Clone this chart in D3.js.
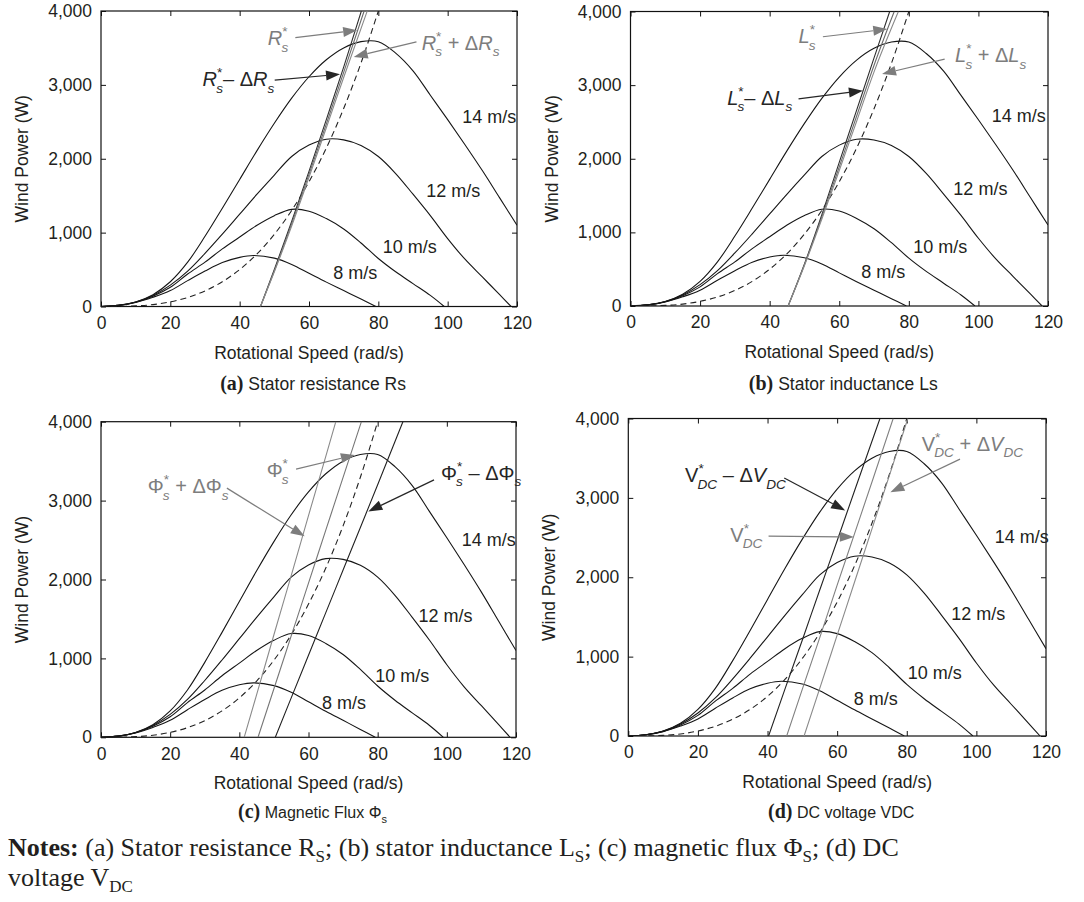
<!DOCTYPE html>
<html><head><meta charset="utf-8">
<script src="https://cdn.jsdelivr.net/npm/d3@7"></script>
<style>
body{margin:0;background:#fff;}
svg{display:block;}
text{font-family:"Liberation Sans",Arial,sans-serif;}
</style></head><body>
<svg id="chart" width="1084" height="902"></svg>
<script>
// ---------------- data ----------------
const xTicks = [0, 20, 40, 60, 80, 100, 120];
const yTicks = [0, 1000, 2000, 3000, 4000];
const speedLabels = ["8 m/s", "10 m/s", "12 m/s", "14 m/s"];

const omega8  = [0,5,10,15,20,25,30,35,40,44,50,55,60,65,70,75,79.3];
const power8  = [0,15,55,125,215,350,480,595,665,690,655,570,450,330,215,100,0];
const omega10 = [0,5,10,15,20,25,30,35,40,45,50,55,60,65,70,75,80,85,90,95,99];
const power10 = [0,15,58,140,260,440,600,780,940,1100,1230,1315,1290,1190,1050,860,650,470,310,150,0];
const omega12 = [0,5,10,15,20,25,30,35,40,45,50,55,60,65,70,75,80,85,90,95,100,105,110,115,118.3];
const power12 = [0,15,60,150,290,480,720,980,1250,1520,1780,2030,2185,2265,2255,2180,2030,1800,1520,1230,920,640,400,160,0];
const omega14 = [0,5,10,15,20,25,30,35,40,45,50,55,60,65,70,75,80,85,90,95,100,105,110,115,120];
const power14 = [0,15,62,160,335,600,950,1330,1720,2110,2480,2820,3110,3340,3500,3585,3585,3430,3190,2860,2530,2190,1840,1470,1100];

// optimal (dashed) curve
const optOmega = [0,5,10,15,20,25,30,35,40,45,50,55,60,65,70,75,80];
const optPower = [0,1,8,26,63,122,211,335,500,712,977,1300,1688,2145,2680,3296,4000];

// operating lines for parameter variations [omega, power]
const rsMinus = [[46,0],[50,500],[55,1150],[60,1830],[65,2530],[70,3240],[75.1,4000]];
const rsStar  = [[46,0],[50,480],[55,1120],[60,1790],[65,2470],[70,3170],[75.9,4000]];
const rsPlus  = [[46,0],[50,470],[55,1090],[60,1750],[65,2420],[70,3100],[76.8,4000]];
const lsMinus = [[45.3,0],[50,570],[55,1240],[60,1950],[65,2660],[70,3370],[74.5,4000]];
const lsStar  = [[45.3,0],[50,560],[55,1210],[60,1890],[65,2580],[70,3270],[75.8,4000]];
const lsPlus  = [[45.3,0],[50,550],[55,1180],[60,1840],[65,2510],[70,3180],[77.0,4000]];
const phiPlus  = [[41.4,0],[45,540],[50,1300],[55,2050],[60,2810],[65,3560],[67.9,4000]];
const phiStar  = [[45.4,0],[50,615],[55,1285],[60,1955],[65,2625],[70,3295],[75.3,4000]];
const phiMinus = [[50.4,0],[55,500],[60,1040],[65,1580],[70,2120],[75,2660],[80,3200],[87.3,4000]];
const vdcMinus = [[40.3,0],[45,590],[50,1210],[55,1840],[60,2460],[65,3090],[72.3,4000]];
const vdcStar  = [[45.5,0],[50,590],[55,1240],[60,1900],[65,2550],[70,3200],[76.1,4000]];
const vdcPlus  = [[50.5,0],[55,600],[60,1270],[65,1940],[70,2610],[75,3280],[80.3,4000]];

// ---------------- layout ----------------
const GRAY = "#7d7d7d", DARK = "#262626";
const windSeries = [[omega8,power8],[omega10,power10],[omega12,power12],[omega14,power14]];

const panels = [
  { box:{l:101,t:11,r:517,b:306.5},
    lines:[{d:rsMinus,c:"#2e2e2e"},{d:rsStar,c:"#6a6a6a"},{d:rsPlus,c:"#8a8a8a"}],
    speedPos:[[67,459],[81.3,802],[93.8,1568],[104.2,2568]],
    notes:[
      {tok:[["R","i"],["*","sup"],["s","sub"]], c:GRAY, at:[48.1,3536], from:[56.05,3640], to:[73.9,3739]},
      {tok:[["R","i"],["*","sup"],["s","sub"],[" + Δ","n"],["R","i"],["s","sub"]], c:GRAY, at:[92.5,3477], from:[91.0,3581], to:[72.9,3378]},
      {tok:[["R","i"],["*","sup"],["s","sub"],["– Δ","n"],["R","i"],["s","sub"]], c:DARK, at:[29.3,2982], from:[50.1,3063], to:[68.95,3144]}
    ],
    cap:[["(a)","b"],[" Stator resistance Rs","s"]]
  },
  { box:{l:630.5,t:11.5,r:1048,b:306},
    lines:[{d:lsMinus,c:"#2e2e2e"},{d:lsStar,c:"#6a6a6a"},{d:lsPlus,c:"#8a8a8a"}],
    speedPos:[[66.3,465],[81.3,804],[92.8,1585],[103.8,2587]],
    notes:[
      {tok:[["L","i"],["*","sup"],["s","sub"]], c:GRAY, at:[48.3,3567], from:[55.3,3657], to:[73.8,3761]},
      {tok:[["L","i"],["*","sup"],["s","sub"],[" + Δ","n"],["L","i"],["s","sub"]], c:GRAY, at:[93.3,3309], from:[90.3,3354], to:[72.3,3151]},
      {tok:[["L","i"],["*","sup"],["s","sub"],["– Δ","n"],["L","i"],["s","sub"]], c:DARK, at:[27.8,2736], from:[48.3,2813], to:[66.8,2925]}
    ],
    cap:[["(b)","b"],[" Stator inductance Ls","s"]]
  },
  { box:{l:101,t:421.7,r:516,b:737.3},
    lines:[{d:phiPlus,c:"#8a8a8a"},{d:phiStar,c:"#777777"},{d:phiMinus,c:"#222222"}],
    speedPos:[[63.9,434],[79.3,771],[91.8,1537],[104.3,2505]],
    notes:[
      {tok:[["Φ","n"],["*","sup"],["s","sub"]], c:GRAY, at:[47.9,3297], from:[56.4,3398], to:[73.4,3579]},
      {tok:[["Φ","n"],["*","sup"],["s","sub"],[" + ΔΦ","n"],["s","sub"]], c:GRAY, at:[13.5,3095], from:[36.4,3158], to:[58.9,2547]},
      {tok:[["Φ","n"],["*","sup"],["s","sub"],[" – ΔΦ","n"],["s","sub"]], c:DARK, at:[98.3,3263], from:[96.3,3263], to:[77.3,2863]}
    ],
    cap:[["(c)","b"],[" Magnetic Flux Φ","s"],["s","ssub"]]
  },
  { box:{l:628.3,t:418.5,r:1046,b:736},
    lines:[{d:vdcMinus,c:"#222222"},{d:vdcStar,c:"#808080"},{d:vdcPlus,c:"#8a8a8a"}],
    speedPos:[[64.8,467],[80.3,792],[92.8,1542],[105.3,2508]],
    notes:[
      {tok:[["V","n"],["*","sup"],["DC","sub"],[" – Δ","n"],["V","i"],["DC","sub"]], c:DARK, at:[16.3,3196], from:[44.8,3250], to:[62.3,2842]},
      {tok:[["V","n"],["*","sup"],["DC","sub"]], c:GRAY, at:[29.3,2446], from:[40.3,2517], to:[64.8,2508]},
      {tok:[["V","n"],["*","sup"],["DC","sub"],[" + Δ","n"],["V","i"],["DC","sub"]], c:GRAY, at:[84.3,3592], from:[95.3,3488], to:[75.3,3071]}
    ],
    cap:[["(d)","b"],[" DC voltage VDC","s"]]
  }
];

const svg = d3.select("#chart");
const TXT = "#231f20";

function mathText(g, x, y, tokens, color, size){
  const t = g.append("text").attr("x", x).attr("y", y)
    .style("fill", color).style("font-size", size + "px");
  let cur = 0, lastSupW = 0;
  tokens.forEach(([s, k]) => {
    const sp = t.append("tspan").text(s);
    let off = 0, fs = size, it = (k === "i");
    if (k === "sup") { off = -0.45 * size; fs = 0.68 * size; }
    if (k === "sub") { off = 0.32 * size; fs = 0.68 * size; it = true; }
    sp.attr("dy", (off - cur).toFixed(2)).style("font-size", fs + "px")
      .style("font-style", it ? "italic" : "normal");
    if (k === "sub" && lastSupW) sp.attr("dx", (-lastSupW).toFixed(2));
    lastSupW = (k === "sup") ? fs * 0.45 * s.length : 0;
    cur = off;
  });
}

function arrow(g, x1, y1, x2, y2, color){
  const dx = x2 - x1, dy = y2 - y1, L = Math.hypot(dx, dy), ux = dx / L, uy = dy / L;
  const hl = 14, hw = 5;
  const bx = x2 - ux * hl, by = y2 - uy * hl;
  g.append("line").attr("x1", x1).attr("y1", y1).attr("x2", bx).attr("y2", by)
    .attr("stroke", color).attr("stroke-width", 1.2);
  g.append("polygon")
    .attr("points", `${x2},${y2} ${bx - uy * hw},${by + ux * hw} ${bx + uy * hw},${by - ux * hw}`)
    .attr("fill", color);
}

panels.forEach((p, i) => {
  const b = p.box;
  const x = d3.scaleLinear().domain([0, 120]).range([b.l, b.r]);
  const y = d3.scaleLinear().domain([0, 4000]).range([b.b, b.t]);
  const g = svg.append("g");
  const clipId = "clip" + i;
  g.append("clipPath").attr("id", clipId).append("rect")
    .attr("x", b.l).attr("y", b.t).attr("width", b.r - b.l).attr("height", b.b - b.t);

  // axes (inward ticks on all four sides)
  g.append("g").attr("transform", `translate(0,${b.b})`)
    .call(d3.axisBottom(x).tickValues(xTicks).tickSize(-5).tickPadding(10));
  g.append("g").attr("transform", `translate(${b.l},0)`)
    .call(d3.axisLeft(y).tickValues(yTicks).tickSize(-5).tickPadding(9).tickFormat(d3.format(",")));
  g.append("g").attr("transform", `translate(0,${b.t})`)
    .call(d3.axisTop(x).tickValues(xTicks).tickSize(-5).tickFormat(""));
  g.append("g").attr("transform", `translate(${b.r},0)`)
    .call(d3.axisRight(y).tickValues(yTicks).tickSize(-5).tickFormat(""));
  g.selectAll(".domain").remove();
  g.selectAll(".tick line").attr("stroke", "#111").attr("stroke-width", 1);
  g.selectAll(".tick text").style("font-size", "17.5px").style("fill", TXT)
    .style("font-family", "'Liberation Sans',Arial,sans-serif");
  g.append("rect").attr("x", b.l).attr("y", b.t).attr("width", b.r - b.l).attr("height", b.b - b.t)
    .attr("fill", "none").attr("stroke", "#111").attr("stroke-width", 1.2);

  const plot = g.append("g").attr("clip-path", `url(#${clipId})`);
  const windLine = d3.line().x(d => x(d[0])).y(d => y(d[1])).curve(d3.curveCatmullRom.alpha(0.5));
  windSeries.forEach(([om, pw]) => {
    plot.append("path").datum(om.map((o, k) => [o, pw[k]])).attr("d", windLine)
      .attr("fill", "none").attr("stroke", "#161616").attr("stroke-width", 1.1);
  });
  const mono = d3.line().x(d => x(d[0])).y(d => y(d[1])).curve(d3.curveMonotoneX);
  plot.append("path").datum(optOmega.map((o, k) => [o, optPower[k]])).attr("d", mono)
    .attr("fill", "none").attr("stroke", "#222").attr("stroke-width", 1.1).attr("stroke-dasharray", "6,4");
  p.lines.forEach(ln => {
    plot.append("path").datum(ln.d).attr("d", mono)
      .attr("fill", "none").attr("stroke", ln.c).attr("stroke-width", 1.1);
  });

  // speed labels
  p.speedPos.forEach((sp, k) => {
    g.append("text").attr("x", x(sp[0])).attr("y", y(sp[1]) + 6)
      .style("font-size", "18px").style("fill", TXT).text(speedLabels[k]);
  });

  // annotations
  p.notes.forEach(n => {
    mathText(g, x(n.at[0]), y(n.at[1]), n.tok, n.c, 20);
    arrow(g, x(n.from[0]), y(n.from[1]), x(n.to[0]), y(n.to[1]), n.c);
  });

  // axis titles
  const cx = (b.l + b.r) / 2, cy = (b.t + b.b) / 2;
  g.append("text").attr("x", cx).attr("y", b.b + 52).attr("text-anchor", "middle")
    .style("font-size", "17.5px").style("fill", TXT).text("Rotational Speed (rad/s)");
  g.append("text").attr("transform", `translate(${b.l - 79},${cy}) rotate(-90)`)
    .attr("text-anchor", "middle").attr("dy", "0.35em")
    .style("font-size", "17.5px").style("fill", TXT).text("Wind Power (W)");

  // caption
  const capY = (i < 2) ? 390 : 818;
  const ct = g.append("text").attr("x", cx + 4).attr("y", capY).attr("text-anchor", "middle").style("fill", TXT);
  p.cap.forEach(([s, k]) => {
    const sp = ct.append("tspan").text(s);
    if (k === "b") sp.style("font-family", "'Liberation Serif','Times New Roman',serif").style("font-weight", "bold").style("font-size", "20px");
    else if (k === "ssub") sp.style("font-size", "11px").attr("dy", 5);
    else sp.style("font-size", i < 2 ? "17.5px" : "16px");
  });
});

// Notes
const serif = "'Liberation Serif','Times New Roman',serif";
const n1 = svg.append("text").attr("x", 8).attr("y", 856).style("font-family", serif).style("font-size", "26px").style("fill", TXT);
const parts1 = [["Notes:", "b"], [" (a) Stator resistance R", "n"], ["S", "sub"], ["; (b) stator inductance L", "n"], ["S", "sub"],
  ["; (c) magnetic flux ", "n"], ["Φ", "n"], ["S", "sub"], ["; (d) DC", "n"]];
let curOff = 0;
parts1.forEach(([s, k]) => {
  const sp = n1.append("tspan").text(s);
  const off = (k === "sub") ? 6 : 0;
  sp.attr("dy", off - curOff);
  curOff = off;
  if (k === "b") sp.style("font-weight", "bold");
  if (k === "sub") sp.style("font-size", "17px");
});
const n2 = svg.append("text").attr("x", 8).attr("y", 886).style("font-family", serif).style("font-size", "26px").style("fill", TXT);
n2.append("tspan").text("voltage V");
n2.append("tspan").text("DC").attr("dy", 6).style("font-size", "17px");
</script>
</body></html>
